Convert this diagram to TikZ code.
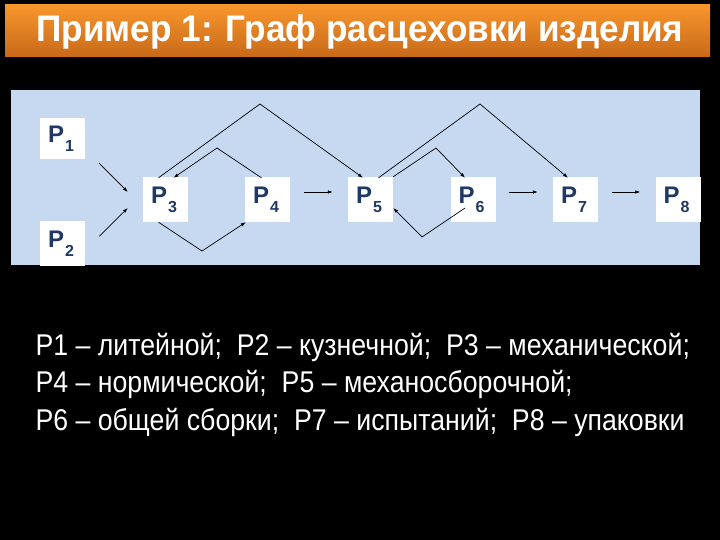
\documentclass[tikz,border=0pt]{standalone}
\usepackage{fontspec}
\setmainfont{Liberation Sans}
\usetikzlibrary{arrows.meta}
\usetikzlibrary{calc}
\usetikzlibrary{positioning}
\definecolor{TitleTop}{RGB}{248,150,45}
\definecolor{TitleBottom}{RGB}{200,105,25}
\definecolor{PanelBlue}{RGB}{198,217,240}
\definecolor{LabelBlue}{RGB}{31,56,100}

\tikzset{
  shop/.style={fill=white, minimum width=45pt, minimum height=45pt, inner sep=0pt,
    text=LabelBlue, font=\fontsize{24}{24}\selectfont\bfseries},
  link/.style={line width=0.7pt, -{Latex[length=5pt,width=3.5pt]}},
  legend/.style={anchor=base west, text=white, font=\fontsize{30}{30}\selectfont}
}
\newcommand{\Plab}[1]{P\kern1pt\raisebox{-9pt}{\fontsize{16}{16}\selectfont #1}\kern3pt}
\newcommand{\narrow}[2]{\scalebox{#1}[1]{#2}}

\begin{document}
\begin{tikzpicture}[x=1pt, y=-1pt]

% background and title bar
\fill[black] (0,0) rectangle (720,540);
\shade[top color=TitleTop, bottom color=TitleBottom] (5,5) rectangle (710,57);
\node[anchor=base, text=white, font=\fontsize{37}{37}\selectfont\bfseries] (title) at (360,42)
  {\narrow{0.95}{Пример 1: Граф расцеховки изделия}};

% blue panel
\fill[PanelBlue] (11,90) rectangle (700,265);

% the shops
\def \yRow {199.5}
\node[shop, minimum height=41pt] (P1) at (62.5,138.5) {\Plab{1}};
\node[shop] (P2) at (62.5,243.5) {\Plab{2}};
\node[shop] (P3) at (165.5,\yRow) {\Plab{3}};
\node[shop] (P4) at (267.5,\yRow) {\Plab{4}};
\node[shop] (P5) at (370.5,\yRow) {\Plab{5}};
\node[shop] (P6) at (473,\yRow) {\Plab{6}};
\node[shop] (P7) at (575.5,\yRow) {\Plab{7}};
\node[shop] (P8) at (678,\yRow) {\Plab{8}};

% inputs to P3
\draw[link] ($(P1.south east)+(14,4)$) -- ($(P3.west)+(-15,-7.5)$);
\draw[link] ($(P2.north east)+(14,15.5)$) -- ($(P3.west)+(-15,8.5)$);

% P3 <-> P4 loops
\draw[link] ($(P3.south)+(-7,0)$) -- (202,251) -- ($(P4.south west)+(1,0)$);
\draw[link] ($(P4.north)+(-6,1)$) -- (217,148) -- ($(P3.north)+(8,1)$);

% big jumps
\draw[link] ($(P3.north)+(-7,1)$) -- (260,104) -- ($(P5.north)+(-7.5,1)$);
\draw[link] ($(P5.north)+(8,1)$) -- (480,104) -- ($(P7.north)+(-7.5,1)$);

% P5 <-> P6 loops
\draw[link] (P5.north east) -- (436,148) -- ($(P6.north)+(-8,1)$);
\draw[link] ($(P6.center)+(-8,8.5)$) -- (422,237) -- ($(P5.east)+(0,8.5)$);

% straight arrows
\draw[link] ($(P4.east)+(14,-7.5)$) -- ($(P5.west)+(-15,-7.5)$);
\draw[link] ($(P6.east)+(13,-7.5)$) -- ($(P7.west)+(-15,-7.5)$);
\draw[link] ($(P7.east)+(14,-7.5)$) -- ($(P8.west)+(-15,-7.5)$);

% legend
\node[legend] (lineA) at (32,355) {\narrow{0.89}{Р1 – литейной;\ \ Р2 – кузнечной;\ \ Р3 – механической;}};
\node[legend] (lineB) at (32,392) {\narrow{0.89}{Р4 – нормической;\ \ Р5 – механосборочной;}};
\node[legend] (lineC) at (32,430) {\narrow{0.89}{Р6 – общей сборки;\ \ Р7 – испытаний;\ \ Р8 – упаковки}};

\end{tikzpicture}
\end{document}
